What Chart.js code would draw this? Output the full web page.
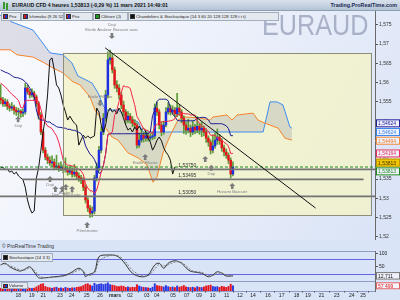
<!DOCTYPE html>
<html><head><meta charset="utf-8">
<script src="https://cdn.jsdelivr.net/npm/chart.js@4.4.1/dist/chart.umd.min.js"></script>
<style>
*{box-sizing:border-box}
body{margin:0;width:400px;height:300px;overflow:hidden;background:#d9e4f7;font-family:"Liberation Sans",Arial,sans-serif;position:relative}
canvas{position:absolute;left:0}
#title{position:absolute;left:0;top:0;width:400px;height:11px;background:linear-gradient(#d9e2ec,#b4c4d5);border-bottom:1px solid #8d9fb3;font-size:5.2px;font-weight:bold;line-height:10px;color:#111;z-index:5}
#title .t{position:absolute;left:12px;top:0}
#title .b{position:absolute;right:3px;top:0;color:#1b2a55;font-size:5.4px}
#title .ico{position:absolute;left:3px;top:2px;width:2px;height:7px;background:#3a9a2a;box-shadow:3px 1px 0 #3a9a2a}
.lg{position:absolute;height:9px;border:1px solid #a3aebd;background:#e4e9f0;font-size:4.3px;line-height:7px;color:#222;white-space:nowrap;overflow:hidden;padding-left:1px;z-index:5}
.lg i{display:inline-block;width:5px;height:5px;vertical-align:-1px;margin-right:1px;border:0.5px solid #333}
.rb{background:linear-gradient(90deg,#d81818 50%,#2232d0 50%)}
#cr{position:absolute;left:2px;top:243px;font-size:5px;color:#333;z-index:5}
</style>
</head><body>
<div id="title"><span class="ico"></span><span class="t">EURAUD CFD 4 heures 1,53813 (-0,29 %) 11 mars 2021 14:49:01</span><span class="b">Trading.ProRealTime.com</span></div>
<div class="lg" style="left:1px;top:12px;width:20px"><i class="rb"></i>Prix</div>
<div class="lg" style="left:21px;top:12px;width:43px"><i class="rb"></i>Ichimoku (9 26 52)</div>
<div class="lg" style="left:64px;top:12px;width:29px"><i class="rb"></i>Prix</div>
<div class="lg" style="left:93px;top:12px;width:35px"><i style="background:#1a9a1a"></i>Clôture (J)</div>
<div class="lg" style="left:128px;top:12px;width:151px"><i style="background:#111"></i>Chandeliers &amp; Stochastique (14 3 60 20 128 128 128 t t t)</div>
<div id="cr">© ProRealTime Trading</div>
<div class="lg" style="left:1px;top:253px;width:52px"><i style="background:#111"></i>Stochastique (14 3 3)</div>
<div class="lg" style="left:1px;top:282px;width:27px;height:7px;line-height:5px"><i class="rb" style="height:4px"></i>Volume</div>
<canvas id="cMain" width="400" height="229" style="top:11px"></canvas>
<canvas id="cSto" width="400" height="30" style="top:251px"></canvas>
<canvas id="cVol" width="400" height="19" style="top:281px"></canvas>
<script>
// ---------- data ----------
const firstOpen = 1.5560;
const closes = [1.5555,1.5545,1.5550,1.5539,1.5534,1.5537,1.5529,1.5524,1.5526,1.5521,
 1.5524,1.5586,1.5576,1.5568,1.5573,1.5563,1.5545,1.5516,1.5472,1.5425,
 1.5407,1.5399,1.5392,1.5394,1.5381,1.5384,1.5379,1.5381,1.5374,1.5376,
 1.5368,1.5371,1.5363,1.5368,1.5358,1.5353,1.5348,1.5329,1.5296,1.5275,
 1.5262,1.5267,1.5353,1.5379,1.5425,1.5472,1.5508,1.5568,1.5659,1.5664,
 1.5633,1.5594,1.5586,1.5568,1.5542,1.5524,1.5503,1.5513,1.5503,1.5495,
 1.5490,1.5438,1.5451,1.5464,1.5456,1.5462,1.5456,1.5459,1.5462,1.5534,
 1.5524,1.5490,1.5472,1.5490,1.5524,1.5534,1.5524,1.5529,1.5519,1.5534,
 1.5524,1.5508,1.5490,1.5477,1.5482,1.5472,1.5485,1.5477,1.5487,1.5477,
 1.5482,1.5472,1.5456,1.5446,1.5425,1.5436,1.5451,1.5459,1.5449,1.5431,
 1.5420,1.5412,1.5399,1.5363,1.53813];
const highs = [1.5595,1.5562,1.5558,1.5556,1.5545,1.5548,1.5542,1.5536,1.5534,1.5530,
 1.5532,1.5598,1.5594,1.5582,1.5584,1.5578,1.5568,1.5550,1.5522,1.5478,
 1.5432,1.5415,1.5408,1.5410,1.5402,1.5412,1.5392,1.5395,1.5388,1.5405,
 1.5382,1.5384,1.5378,1.5388,1.5374,1.5366,1.5360,1.5354,1.5335,1.5302,
 1.5282,1.5278,1.5360,1.5392,1.5435,1.5485,1.5520,1.5580,1.5680,1.5684,
 1.5676,1.5640,1.5605,1.5595,1.5575,1.5552,1.5530,1.5525,1.5520,1.5512,
 1.5504,1.5496,1.5470,1.5478,1.5472,1.5475,1.5470,1.5468,1.5472,1.5545,
 1.5550,1.5530,1.5498,1.5500,1.5535,1.5548,1.5542,1.5540,1.5536,1.5572,
 1.5542,1.5530,1.5514,1.5498,1.5505,1.5490,1.5500,1.5492,1.5512,1.5494,
 1.5498,1.5488,1.5480,1.5462,1.5452,1.5465,1.5470,1.5480,1.5466,1.5455,
 1.5438,1.5428,1.5418,1.5405,1.5395];
const lows = [1.5545,1.5538,1.5538,1.5530,1.5526,1.5528,1.5518,1.5515,1.5512,1.5510,
 1.5512,1.5518,1.5570,1.5560,1.5562,1.5555,1.5538,1.5505,1.5465,1.5418,
 1.5400,1.5390,1.5385,1.5383,1.5374,1.5375,1.5370,1.5372,1.5366,1.5368,
 1.5360,1.5362,1.5355,1.5356,1.5350,1.5344,1.5338,1.5320,1.5288,1.5266,
 1.5251,1.5252,1.5260,1.5345,1.5372,1.5418,1.5465,1.5500,1.5560,1.5648,
 1.5625,1.5585,1.5576,1.5558,1.5532,1.5514,1.5494,1.5496,1.5495,1.5486,
 1.5480,1.5430,1.5432,1.5445,1.5446,1.5448,1.5448,1.5450,1.5452,1.5455,
 1.5515,1.5480,1.5462,1.5466,1.5485,1.5518,1.5516,1.5518,1.5510,1.5512,
 1.5515,1.5496,1.5468,1.5466,1.5470,1.5460,1.5465,1.5468,1.5470,1.5466,
 1.5460,1.5462,1.5445,1.5435,1.5415,1.5418,1.5430,1.5440,1.5440,1.5422,
 1.5410,1.5404,1.5390,1.5353,1.5358];
const volumes = [30000,25000,28000,22000,35000,26000,30000,24000,28000,22000,
 26000,70000,40000,30000,28000,32000,45000,60000,75000,80000,
 50000,40000,35000,30000,38000,42000,30000,35000,28000,40000,
 32000,30000,36000,34000,40000,45000,48000,60000,75000,80000,
 65000,55000,85000,70000,75000,80000,72000,78000,90000,70000,
 65000,60000,50000,48000,55000,52000,40000,45000,38000,42000,
 40000,70000,55000,45000,40000,38000,35000,30000,42000,80000,
 60000,55000,50000,45000,60000,48000,40000,45000,38000,55000,
 42000,50000,60000,45000,40000,38000,42000,35000,48000,40000,
 38000,45000,55000,60000,65000,50000,45000,48000,40000,52000,
 45000,40000,50000,75000,57499];
// Ichimoku values before enough history is visible
const tenkanHead = [1.5599,1.5594,1.5589,1.5583,1.5576,1.5570,1.5565,1.5560];
const kijunHead = [1.5633,1.5630,1.5627,1.5625,1.5622,1.5618,1.5614,1.5613,1.5612,1.5610,
 1.5607,1.5602,1.5596,1.5586,1.5576,1.5563,1.5529,1.5508,1.5503,1.5503,1.5501,1.5498,1.5498,1.5493,1.5490];
const spanABars = [-0.3,5.07,14.5,15.8,19.8,22.1,27.9,31.9,34.6,38.2,40.9,43.6,45.8,47.2,52.5,55.7,57.9,61.5,63.7,117.5,120.6,123.7,126.4,129.5,130.4];
const spanAVals = [1.5775,1.5757,1.5736,1.5726,1.5695,1.5677,1.5672,1.5651,1.5617,1.5607,1.5599,1.5573,1.5542,1.5529,1.5529,1.5516,1.5508,1.5498,1.5472,1.5472,1.5550,1.5550,1.5542,1.5485,1.5482];
const spanBBars = [-0.3,4.2,7.3,14.5,19.0,23.4,27.9,32.4,35.5,40.0,42.2,45.4,46.7,49.8,52.5,54.3,57.0,61.5,65.5,68.2,70.0,71.3,72.7,74.5,76.7,79.4,82.5,89.2,93.7,95.1,101.3,103.6,105.8,113.0,115.2,118.3,120.6,124.2,127.3,130.4];
const spanBVals = [1.5685,1.5685,1.5672,1.5666,1.5653,1.5638,1.5625,1.5602,1.5594,1.5563,1.5529,1.5503,1.5485,1.5459,1.5451,1.5438,1.5418,1.5405,1.5387,1.5342,1.5355,1.5387,1.5418,1.5444,1.5472,1.5503,1.5511,1.5508,1.5503,1.5511,1.5516,1.5503,1.5516,1.5521,1.5503,1.5495,1.5490,1.5482,1.5456,1.5451];
const stochBars = [0,2,4,7,9,11,13,15,17,19,24,28,31,35,37,38,39,42,44,48,52,55,59,63,66,69,71,73,75,78,81,84,86,90,93,95,97,99,101,104];
const stochK = [56,63,49,36,32,40,49,28,5,4,9,13,23,43,29,9,16,29,89,96,92,69,23,9,16,56,63,43,63,73,63,36,29,23,9,16,29,23,12,12.711];
const stochD = [58,60,54,42,35,37,45,36,14,6,7,11,19,36,34,17,14,22,70,92,94,78,35,14,13,40,58,52,57,68,66,45,32,26,14,14,22,24,16,13];
const stochLevels = [80, 20];
const dateTickBars = [7.9,13.9,19.1,26.6,31.8,38.5,44.5,51.2,57.9,65.4,69.9,77.2,83.3,88.8,94.9,101.2,107.2,113.0,119.7,125.8,132.5,137.6,143.7,150.5,157.2,162.2];
const dateLabels = ['18','19','21','23','24','25','26','mars','02','03','04','05','07','09','10','11','12','14','16','17','18','19','21','23','24','25'];
const priceTickStep = 0.005;
const zoneBars = [27.9, 165.6], zonePrices = [1.5677, 1.5257];
const trendBars = [46.8, 141.0], trendPrices = [1.5690, 1.5275];
const levelVals = [1.5375, 1.53495, 1.5305];
const levelFrom = [-0.3, 9.6, -0.3], levelTo = [167.6, 162.5, 167.6];
const levelLabelBar = 79.5;
const lastClose = 1.53813;
const rightLabelVals = [1.54624, 1.54624, 1.54494, 1.54164, 1.53813, 1.53813];
const stochLast = 12.711, volLast = 57499;
const patBars   = [7.8, 49.8, 44.5, 22.1, 24.5, 27.5, 29.2, 32.0, 38.7, 64.7, 91.6, 94.3, 103.7];
const patPrices = [1.5513, 1.5713, 1.5539, 1.5358, 1.5332, 1.5332, 1.5337, 1.5332, 1.5239, 1.5415, 1.5410, 1.5387, 1.5340];
const patDirs   = ['u','d','d','u','u','u','u','u','u','u','u','u','u'];
const patTexts  = ['Doji','Doji|Etoile Avaleur Baissier avec','Etoile Filante','Doji','Doji','','Avaleur','Haussier','Pénétrante','Etoile Filante|Doji','','Doji','Harami Baissier'];
const xMin = -0.3, xMax = 167.6;
const yMainMin = 1.51922, yMainMax = 1.57855;

// ---------- derived ----------
const FONT = '"Liberation Sans", Arial, sans-serif';
Chart.defaults.font.family = FONT;
Chart.defaults.font.size = 5;
Chart.defaults.animation = false;
const idx = closes.map((_, i) => i);
const opens = closes.map((c, i) => i ? closes[i - 1] : firstOpen);
const isUp = closes.map((c, i) => c >= opens[i]);
const winMax = (a, i, n) => Math.max(...a.slice(Math.max(0, i - n + 1), i + 1));
const winMin = (a, i, n) => Math.min(...a.slice(Math.max(0, i - n + 1), i + 1));
const tenkan = idx.map(i => i < tenkanHead.length ? tenkanHead[i] : (winMax(highs, i, 9) + winMin(lows, i, 9)) / 2);
const kijun = idx.map(i => i < kijunHead.length ? kijunHead[i] : (winMax(highs, i, 26) + winMin(lows, i, 26)) / 2);
const chikou = idx.filter(i => i >= 26).map(i => ({x: i - 26, y: closes[i]}));
const fmtP = v => (Math.round(v * 1000) / 1000).toString().replace('.', ',');

function xScale(display, extra) {
  return Object.assign({type: 'linear', min: xMin, max: xMax, offset: false, display,
    afterFit(a) { a.paddingLeft = 0; a.paddingRight = 0; }}, extra || {});
}
function yScale(extra) {
  return Object.assign({position: 'right',
    afterFit(a) { a.width = 25; a.paddingTop = 0; a.paddingBottom = 0; },
    grid: {drawOnChartArea: false, tickLength: 3, color: '#555', offset: false},
    border: {display: true, color: '#6a6a6a'},
    ticks: {color: '#333', padding: 1, font: {size: 5}}}, extra);
}
function box(ctx, x, y, w, h, txt, fg, bg, bd) {
  ctx.fillStyle = bg; ctx.fillRect(x, y - h / 2, w, h);
  ctx.strokeStyle = bd; ctx.lineWidth = 1; ctx.strokeRect(x + 0.5, y - h / 2 + 0.5, w - 1, h - 1);
  ctx.fillStyle = fg; ctx.font = '5px ' + FONT; ctx.textBaseline = 'middle'; ctx.textAlign = 'left';
  ctx.fillText(txt, x + 2, y + 0.5);
}

// ---------- main chart ----------
const mainDeco = {
  id: 'mainDeco',
  beforeDraw(ch) {
    const {ctx} = ch;
    const g = ctx.createLinearGradient(0, 0, 400, ch.height);
    g.addColorStop(0, '#fbfbfe'); g.addColorStop(1, '#d9e3f6');
    ctx.fillStyle = g; ctx.fillRect(0, 0, ch.width, ch.height);
    ctx.save();
    ctx.translate(262, 24); ctx.scale(0.84, 1);
    ctx.font = '30px ' + FONT; ctx.fillStyle = '#a9b1c9'; ctx.textBaseline = 'alphabetic'; ctx.textAlign = 'left';
    ctx.fillText('EURAUD', 0, 0);
    ctx.restore();
  },
  beforeDatasetsDraw(ch) {
    const {ctx} = ch, xs = ch.scales.x, ys = ch.scales.y;
    const x1 = xs.getPixelForValue(zoneBars[0]), x2 = xs.getPixelForValue(zoneBars[1]);
    const y1 = ys.getPixelForValue(zonePrices[0]), y2 = ys.getPixelForValue(zonePrices[1]);
    ctx.fillStyle = 'rgba(243,244,198,0.78)'; ctx.fillRect(x1, y1, x2 - x1, y2 - y1);
  },
  afterDatasetsDraw(ch) {
    const {ctx, chartArea: a} = ch, xs = ch.scales.x, ys = ch.scales.y;
    ctx.save();
    ctx.beginPath(); ctx.rect(a.left, a.top, a.right - a.left, a.bottom - a.top); ctx.clip();
    const x1 = xs.getPixelForValue(zoneBars[0]), x2 = xs.getPixelForValue(zoneBars[1]);
    const y1 = ys.getPixelForValue(zonePrices[0]), y2 = ys.getPixelForValue(zonePrices[1]);
    ctx.strokeStyle = '#8e8e78'; ctx.lineWidth = 1;
    ctx.strokeRect(Math.round(x1) + 0.5, Math.round(y1) + 0.5, Math.round(x2 - x1), Math.round(y2 - y1));
    levelVals.forEach((v, k) => {
      const y = ys.getPixelForValue(v);
      ctx.strokeStyle = '#737373'; ctx.lineWidth = 1.7;
      ctx.beginPath(); ctx.moveTo(xs.getPixelForValue(levelFrom[k]), y); ctx.lineTo(xs.getPixelForValue(levelTo[k]), y); ctx.stroke();
      ctx.fillStyle = '#333'; ctx.font = '5px ' + FONT; ctx.textAlign = 'left'; ctx.textBaseline = 'alphabetic';
      ctx.fillText(v.toFixed(5).replace('.', ','), xs.getPixelForValue(levelLabelBar), y - 2);
    });
    const yc = ys.getPixelForValue(lastClose);
    ctx.strokeStyle = '#1f8c1f'; ctx.lineWidth = 1; ctx.setLineDash([3, 2]);
    ctx.beginPath(); ctx.moveTo(a.left, yc); ctx.lineTo(a.right, yc); ctx.stroke(); ctx.setLineDash([]);
    ctx.strokeStyle = '#111'; ctx.lineWidth = 1;
    ctx.beginPath();
    ctx.moveTo(xs.getPixelForValue(trendBars[0]), ys.getPixelForValue(trendPrices[0]));
    ctx.lineTo(xs.getPixelForValue(trendBars[1]), ys.getPixelForValue(trendPrices[1])); ctx.stroke();
    patBars.forEach((b, k) => {
      const x = xs.getPixelForValue(b), y = ys.getPixelForValue(patPrices[k]);
      const s = patDirs[k] === 'u' ? 1 : -1;
      ctx.fillStyle = '#7b7b7b';
      ctx.beginPath(); ctx.moveTo(x, y); ctx.lineTo(x - 3, y + 3 * s); ctx.lineTo(x + 3, y + 3 * s); ctx.closePath(); ctx.fill();
      ctx.fillRect(x - 1.3, s > 0 ? y + 3 : y - 6, 2.6, 3);
      const lines = patTexts[k] ? patTexts[k].split('|') : [];
      ctx.font = '4.3px ' + FONT; ctx.textAlign = 'center'; ctx.fillStyle = '#808080';
      if (s > 0) { ctx.textBaseline = 'top'; lines.forEach((t, j) => ctx.fillText(t, x, y + 7 + j * 5)); }
      else { ctx.textBaseline = 'bottom'; lines.slice().reverse().forEach((t, j) => ctx.fillText(t, x, y - 7 - j * 5)); }
    });
    ctx.restore();
  },
  afterDraw(ch) {
    const {ctx, chartArea: a} = ch, ys = ch.scales.y;
    const styles = [['#1f1f9a', '#eef0fa', '#1f1f9a'], ['#3a86ee', '#eef0fa', '#3a86ee'], ['#f07a26', '#eef0fa', '#f08a3c'],
                    ['#e8305a', '#eef0fa', '#e8305a'], ['#3a2e00', '#f2c600', '#c09a00'], ['#1f8c1f', '#eef0fa', '#1f8c1f']];
    const H = 8.7;
    const items = rightLabelVals.map((v, i) => ({i, v, y0: ys.getPixelForValue(v), y: ys.getPixelForValue(v)}));
    const groups = {};
    items.forEach(it => { (groups[it.v] = groups[it.v] || []).push(it); });
    Object.values(groups).forEach(g => g.forEach((it, k) => { it.y += (k - (g.length - 1) / 2) * H; }));
    items.sort((p, q) => p.y - q.y);
    for (let k = items.length - 2; k >= 0; k--) if (items[k].y > items[k + 1].y - H) items[k].y = items[k + 1].y - H;
    items.forEach(it => {
      const st = styles[it.i];
      ctx.strokeStyle = st[2]; ctx.lineWidth = 1;
      ctx.beginPath(); ctx.moveTo(a.right, it.y0); ctx.lineTo(a.right + 2, it.y0); ctx.stroke();
      box(ctx, a.right + 1, it.y, 24, H - 0.7, it.v.toFixed(5).replace('.', ','), st[0], st[1], st[2]);
    });
  }
};

new Chart(document.getElementById('cMain'), {
  type: 'bar',
  data: {datasets: [
    {type: 'line', label: 'spanA', data: spanABars.map((b, i) => ({x: b, y: spanAVals[i]})), borderColor: '#3d8cf2', borderWidth: 1,
     pointRadius: 0, fill: {target: 1}, backgroundColor: 'rgba(135,135,160,0.24)', order: 10},
    {type: 'line', label: 'spanB', data: spanBBars.map((b, i) => ({x: b, y: spanBVals[i]})), borderColor: '#f6842a', borderWidth: 1,
     pointRadius: 0, fill: false, order: 9},
    {label: 'wicks', data: idx.map(i => ({x: i, y: [lows[i], highs[i]]})), backgroundColor: '#5f9a3a', barThickness: 1,
     grouped: false, order: 6},
    {label: 'bodies', data: idx.map(i => ({x: i, y: [opens[i], closes[i]]})), backgroundColor: idx.map(i => isUp[i] ? '#1e2ee0' : '#e3141c'),
     barThickness: 1.8, minBarLength: 1, grouped: false, order: 5},
    {type: 'line', label: 'chikou', data: chikou, borderColor: '#111', borderWidth: 1, pointRadius: 0, order: 3},
    {type: 'line', label: 'kijun', data: idx.map(i => ({x: i, y: kijun[i]})), borderColor: '#1d1d94', borderWidth: 1, pointRadius: 0, order: 2},
    {type: 'line', label: 'tenkan', data: idx.map(i => ({x: i, y: tenkan[i]})), borderColor: '#f3264c', borderWidth: 1, pointRadius: 0, order: 1}
  ]},
  options: {
    responsive: false, devicePixelRatio: 1, animation: false,
    layout: {padding: 0},
    plugins: {legend: {display: false}, tooltip: {enabled: false}},
    scales: {
      x: xScale(false),
      y: yScale({min: yMainMin, max: yMainMax, ticks: {color: '#333', padding: 1, font: {size: 5}, stepSize: priceTickStep, includeBounds: false, callback: v => fmtP(v)}})
    }
  },
  plugins: [mainDeco]
});

// ---------- stochastic ----------
const stoDeco = {
  id: 'stoDeco',
  beforeDraw(ch) { const {ctx} = ch; ctx.fillStyle = '#d9e4f7'; ctx.fillRect(0, 0, ch.width, ch.height); },
  beforeDatasetsDraw(ch) {
    const {ctx, chartArea: a} = ch, ys = ch.scales.y;
    ctx.strokeStyle = '#8d9bc6'; ctx.lineWidth = 1;
    ctx.beginPath(); ctx.moveTo(0, 0.5); ctx.lineTo(a.right, 0.5); ctx.stroke();
    ctx.strokeStyle = '#6464e4';
    stochLevels.forEach(v => { const y = Math.round(ys.getPixelForValue(v)) + 0.5; ctx.beginPath(); ctx.moveTo(a.left, y); ctx.lineTo(a.right, y); ctx.stroke(); });
  },
  afterDraw(ch) {
    const {ctx, chartArea: a} = ch, ys = ch.scales.y;
    box(ctx, a.right + 1, ys.getPixelForValue(stochLast), 24, 7.5, stochLast.toFixed(3).replace('.', ','), '#222', '#eef0fa', '#7a7a7a');
  }
};
new Chart(document.getElementById('cSto'), {
  type: 'line',
  data: {datasets: [
    {data: stochBars.map((b, i) => ({x: b, y: stochD[i]})), borderColor: '#777', borderWidth: 1, borderDash: [2, 1.5], pointRadius: 0, tension: 0.35},
    {data: stochBars.map((b, i) => ({x: b, y: stochK[i]})), borderColor: '#333', borderWidth: 1, pointRadius: 0, tension: 0.35}
  ]},
  options: {
    responsive: false, devicePixelRatio: 1, animation: false, layout: {padding: 0},
    plugins: {legend: {display: false}, tooltip: {enabled: false}},
    scales: {
      x: xScale(false),
      y: yScale({min: -8, max: 112, afterBuildTicks(ax) { ax.ticks = [{value: 100}, {value: 50}]; },
        ticks: {color: '#222', padding: 1, font: {size: 5}}})
    }
  },
  plugins: [stoDeco]
});

// ---------- volume + date axis ----------
const volDeco = {
  id: 'volDeco',
  beforeDraw(ch) { const {ctx} = ch; ctx.fillStyle = '#d9e4f7'; ctx.fillRect(0, 0, ch.width, ch.height);
    ctx.strokeStyle = '#8d9bc6'; ctx.lineWidth = 1;
    ctx.beginPath(); ctx.moveTo(0, 0.5); ctx.lineTo(ch.chartArea.right, 0.5); ctx.stroke();
    ctx.beginPath(); ctx.moveTo(0, ch.chartArea.bottom + 0.5); ctx.lineTo(ch.chartArea.right, ch.chartArea.bottom + 0.5); ctx.stroke(); },
  afterDraw(ch) {
    const {ctx, chartArea: a} = ch, ys = ch.scales.y;
    box(ctx, a.right + 1, ys.getPixelForValue(volLast), 24, 7, volLast.toLocaleString('fr-FR').replace(/\s/g, ' '), '#e01818', '#f4f6fc', '#e06060');
  }
};
new Chart(document.getElementById('cVol'), {
  type: 'bar',
  data: {datasets: [
    {data: idx.map(i => ({x: i, y: volumes[i]})), backgroundColor: idx.map(i => isUp[i] ? '#2a3ae0' : '#e3141c'), barThickness: 1.3, grouped: false}
  ]},
  options: {
    responsive: false, devicePixelRatio: 1, animation: false, layout: {padding: 0},
    plugins: {legend: {display: false}, tooltip: {enabled: false}},
    scales: {
      x: xScale(true, {
        afterFit(a) { a.height = 9; a.paddingLeft = 0; a.paddingRight = 0; },
        afterBuildTicks(ax) { ax.ticks = dateTickBars.map(v => ({value: v})); },
        grid: {drawOnChartArea: false, tickLength: 1.5, color: '#555'},
        border: {display: false},
        ticks: {autoSkip: false, maxRotation: 0, padding: 0, color: '#222',
          callback: (v, i) => dateLabels[i],
          font: c => ({size: 5, family: FONT, weight: (c.tick && c.tick.label === 'mars') ? 'bold' : 'normal'})}
      }),
      y: yScale({min: 0, max: 110000, ticks: {display: false}, grid: {display: false}})
    }
  },
  plugins: [volDeco]
});
</script>
</body></html>
